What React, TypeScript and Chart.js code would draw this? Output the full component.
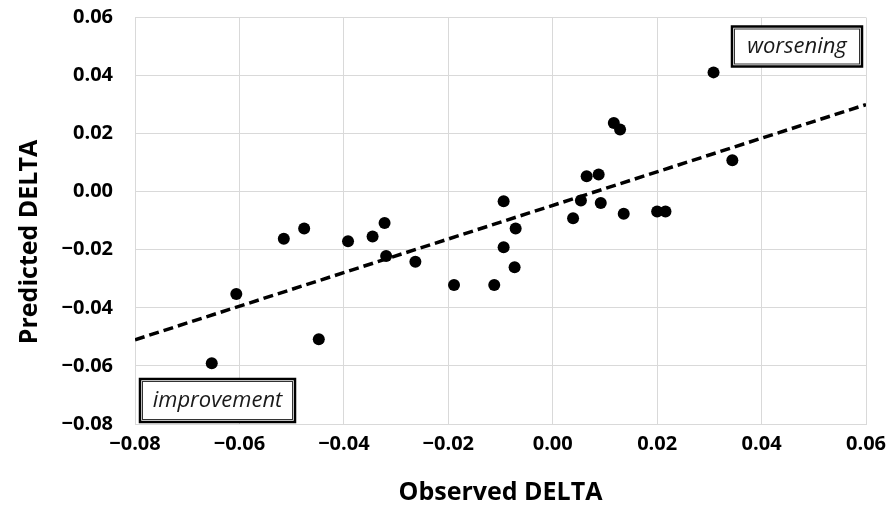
import React, { useEffect, useRef } from "react";
import { Chart, registerables } from "chart.js";

Chart.register(...registerables);

// Observed DELTA (x) and Predicted DELTA (y) for each case
const observed = [
  -0.0653, -0.0606, -0.0515, -0.0476, -0.0448, -0.0392, -0.0345, -0.0322, -0.0319,
  -0.0263, -0.0189, -0.0112, -0.0094, -0.0094, -0.0073, -0.0071, 0.0039, 0.0054,
  0.0065, 0.0088, 0.0092, 0.0117, 0.0129, 0.0136, 0.02, 0.0216, 0.0308, 0.0344,
];
const predicted = [
  -0.0591, -0.0352, -0.0162, -0.0127, -0.0508, -0.0171, -0.0154, -0.0108, -0.0221,
  -0.0241, -0.0321, -0.0321, -0.0033, -0.0191, -0.026, -0.0127, -0.0091, -0.003,
  0.0053, 0.0059, -0.0039, 0.0237, 0.0214, -0.0076, -0.0068, -0.0068, 0.0411, 0.0108,
];

// Trend line end points
const trendX = [-0.08, 0.06];
const trendY = [-0.051, 0.030];

// Axis settings
const axisMin = -0.08;
const axisMax = 0.06;
const axisStep = 0.02;

const xTitle = "Observed DELTA";
const yTitle = "Predicted DELTA";
const noteLow = "improvement";
const noteHigh = "worsening";

const FONT = "'Open Sans', 'Liberation Sans', sans-serif";

const fmt = (v: number) => {
  if (Math.abs(v) < 1e-9) return "0.00";
  const s = Math.abs(v).toFixed(2);
  return v < 0 ? "\u2212" + s : s;
};

const notesPlugin = {
  id: "notes",
  afterDraw(chart: any) {
    const { ctx, chartArea } = chart;
    ctx.save();
    // y axis title
    ctx.fillStyle = "#000";
    ctx.font = `bold 25px ${FONT}`;
    ctx.textAlign = "center";
    ctx.textBaseline = "middle";
    ctx.translate(30, 242);
    ctx.rotate(-Math.PI / 2);
    ctx.fillText(yTitle, 0, 0);
    ctx.restore();

    const drawBox = (text: string, x: number, y: number, w: number, h: number) => {
      ctx.save();
      ctx.fillStyle = "#fff";
      ctx.fillRect(x, y, w, h);
      ctx.strokeStyle = "#000";
      ctx.lineWidth = 2.5;
      ctx.strokeRect(x, y, w, h);
      ctx.lineWidth = 1;
      ctx.strokeStyle = "#333";
      ctx.strokeRect(x + 2.5, y + 2.5, w - 5, h - 5);
      ctx.fillStyle = "#1a1a1a";
      ctx.font = `italic 22px ${FONT}`;
      ctx.textAlign = "center";
      ctx.textBaseline = "middle";
      ctx.fillText(text, x + w / 2, y + h / 2);
      ctx.restore();
    };
    drawBox(noteHigh, chartArea.right - 134, chartArea.top + 9, 130, 40);
    drawBox(noteLow, chartArea.left + 5, chartArea.bottom - 45, 155, 43);
  },
};

export default function App() {
  const ref = useRef<HTMLCanvasElement>(null);
  useEffect(() => {
    document.body.style.margin = "0";
    const canvas = ref.current!;
    const points = observed.map((x, i) => ({ x, y: predicted[i] }));
    const trend = trendX.map((x, i) => ({ x, y: trendY[i] }));
    const chart = new Chart(canvas, {
      type: "scatter",
      data: {
        datasets: [
          {
            type: "scatter",
            data: points,
            pointRadius: 6,
            pointHoverRadius: 6,
            backgroundColor: "#000",
            borderWidth: 0,
            order: 0,
          } as any,
          {
            type: "line",
            data: trend,
            borderColor: "#000",
            borderWidth: 3.5,
            borderDash: [10, 5],
            pointRadius: 0,
            fill: false,
            order: 1,
          } as any,
        ],
      },
      options: {
        responsive: false,
        animation: false,
        devicePixelRatio: 1,
        layout: { padding: { left: 0, right: 22, top: 17.5, bottom: 0 } },
        plugins: { legend: { display: false }, tooltip: { enabled: false } },
        scales: {
          x: {
            type: "linear",
            min: axisMin,
            max: axisMax,
            afterFit: (s: any) => {
              s.height = 84;
              s.paddingLeft = 0;
              s.paddingRight = 0;
            },
            ticks: {
              stepSize: axisStep,
              color: "#000",
              padding: 8,
              font: { family: FONT, size: 20, weight: "bold" },
              callback: (v: any) => fmt(Number(v)),
              maxRotation: 0,
            },
            grid: { color: "#d9d9d9", lineWidth: 1, drawTicks: false },
            border: { color: "#d9d9d9" },
            title: {
              display: true,
              text: xTitle,
              color: "#000",
              font: { family: FONT, size: 25, weight: "bold" },
              padding: { top: 0, bottom: 0 },
            },
          },
          y: {
            type: "linear",
            min: axisMin,
            max: axisMax,
            afterFit: (s: any) => {
              s.width = 135;
              s.paddingTop = 0;
              s.paddingBottom = 0;
            },
            ticks: {
              stepSize: axisStep,
              color: "#000",
              padding: 22,
              font: { family: FONT, size: 20, weight: "bold" },
              callback: (v: any) => fmt(Number(v)),
            },
            grid: { color: "#d9d9d9", lineWidth: 1, drawTicks: false },
            border: { color: "#d9d9d9" },
          },
        },
      },
      plugins: [notesPlugin],
    });
    return () => chart.destroy();
  }, []);
  return (
    <div style={{ position: "absolute", left: 0, top: 0, width: 888, height: 508 }}>
      <canvas ref={ref} width={888} height={508} style={{ display: "block" }} />
    </div>
  );
}
